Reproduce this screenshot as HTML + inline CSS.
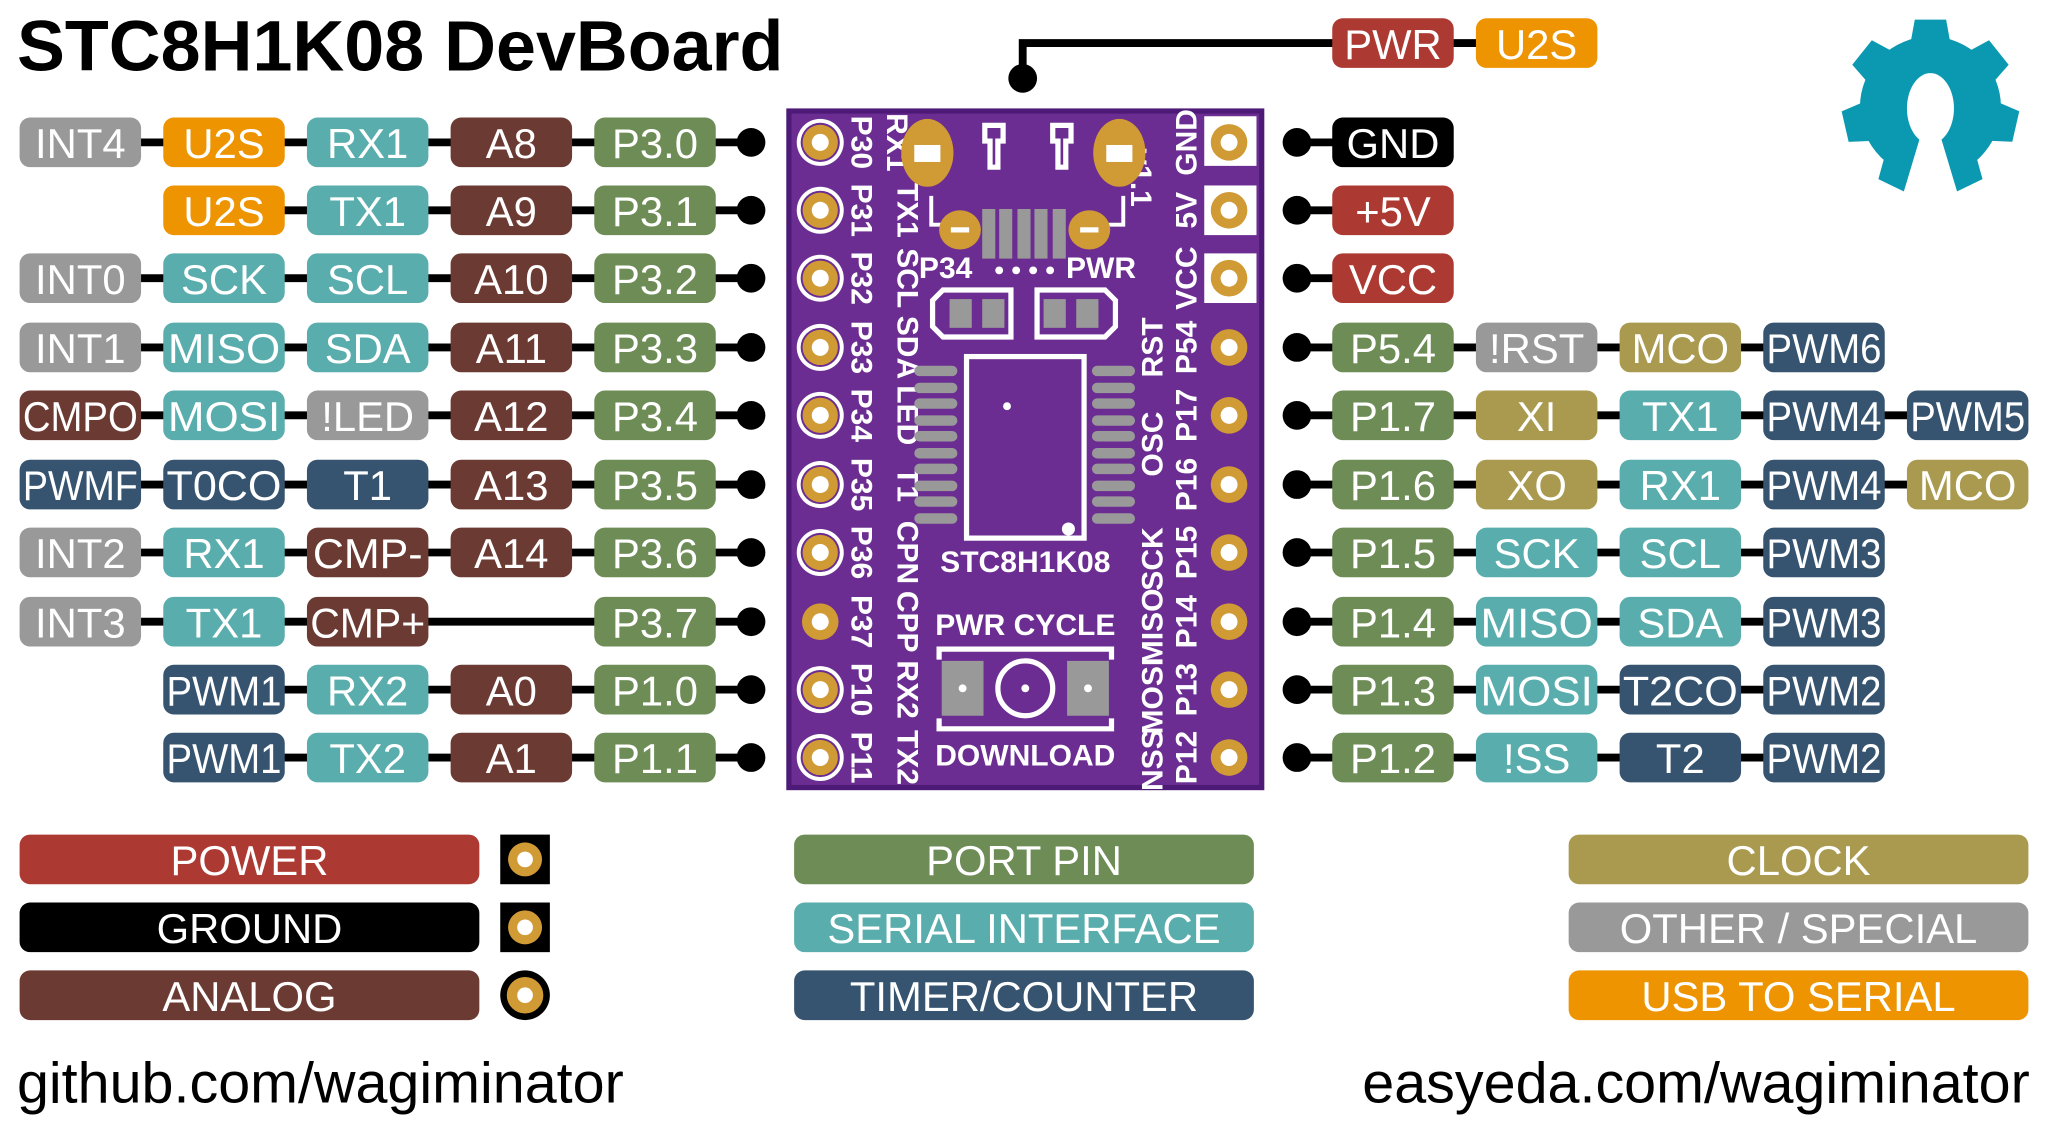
<!DOCTYPE html>
<html><head><meta charset="utf-8"><style>
html,body{margin:0;padding:0;background:#fff;}
svg{display:block;}
.p{font-family:"Liberation Sans",sans-serif;font-size:32px;fill:#fff;text-anchor:middle;}
.b{font-family:"Liberation Sans",sans-serif;font-weight:bold;font-size:23px;fill:#fff;text-anchor:middle;}
</style></head><body>
<svg width="2048" height="1132" viewBox="0 0 1568 866.7" preserveAspectRatio="none" xmlns="http://www.w3.org/2000/svg">
<defs>
<g id="hole"><circle r="18" fill="#fff"/><circle r="15" fill="#6b2d91"/><circle r="13.5" fill="#d09a35"/><circle r="6.5" fill="#fff"/></g>
<g id="holeR"><circle r="14" fill="#d09a35"/><circle r="6.5" fill="#fff"/></g>
</defs>
<text x="13" y="54" font-family="Liberation Sans,sans-serif" font-weight="bold" font-size="55" fill="#000">STC8H1K08 DevBoard</text>

<g stroke="#000" stroke-width="6">
<line x1="61" y1="109" x2="575" y2="109"/>
<line x1="171" y1="161" x2="575" y2="161"/>
<line x1="61" y1="213" x2="575" y2="213"/>
<line x1="61" y1="266" x2="575" y2="266"/>
<line x1="61" y1="318" x2="575" y2="318"/>
<line x1="61" y1="371" x2="575" y2="371"/>
<line x1="61" y1="423" x2="575" y2="423"/>
<line x1="61" y1="476" x2="575" y2="476"/>
<line x1="171" y1="528" x2="575" y2="528"/>
<line x1="171" y1="580" x2="575" y2="580"/>
<line x1="993" y1="109" x2="1066" y2="109"/>
<line x1="993" y1="161" x2="1066" y2="161"/>
<line x1="993" y1="213" x2="1066" y2="213"/>
<line x1="993" y1="266" x2="1396" y2="266"/>
<line x1="993" y1="318" x2="1506" y2="318"/>
<line x1="993" y1="371" x2="1506" y2="371"/>
<line x1="993" y1="423" x2="1396" y2="423"/>
<line x1="993" y1="476" x2="1396" y2="476"/>
<line x1="993" y1="528" x2="1396" y2="528"/>
<line x1="993" y1="580" x2="1396" y2="580"/>
<polyline points="1176,33 783,33 783,60" fill="none"/>
</g>
<g fill="#000">
<circle cx="575" cy="109" r="11"/><circle cx="575" cy="161" r="11"/><circle cx="575" cy="213" r="11"/><circle cx="575" cy="266" r="11"/><circle cx="575" cy="318" r="11"/><circle cx="575" cy="371" r="11"/><circle cx="575" cy="423" r="11"/><circle cx="575" cy="476" r="11"/><circle cx="575" cy="528" r="11"/><circle cx="575" cy="580" r="11"/>
<circle cx="993" cy="109" r="11"/><circle cx="993" cy="161" r="11"/><circle cx="993" cy="213" r="11"/><circle cx="993" cy="266" r="11"/><circle cx="993" cy="318" r="11"/><circle cx="993" cy="371" r="11"/><circle cx="993" cy="423" r="11"/><circle cx="993" cy="476" r="11"/><circle cx="993" cy="528" r="11"/><circle cx="993" cy="580" r="11"/>
<circle cx="783" cy="60" r="11"/>
</g>

<g>
<rect x="1020" y="14" width="93" height="38" rx="8" fill="#ad3a32"/><text class="p" x="1066.5" y="45">PWR</text>
<rect x="1130" y="14" width="93" height="38" rx="8" fill="#ee9400"/><text class="p" x="1176.5" y="45">U2S</text>

<rect x="15" y="90" width="93" height="38" rx="8" fill="#999"/><text class="p" x="61.5" y="121">INT4</text>
<rect x="125" y="90" width="93" height="38" rx="8" fill="#ee9400"/><text class="p" x="171.5" y="121">U2S</text>
<rect x="235" y="90" width="93" height="38" rx="8" fill="#5aadad"/><text class="p" x="281.5" y="121">RX1</text>
<rect x="345" y="90" width="93" height="38" rx="8" fill="#6b3a32"/><text class="p" x="391.5" y="121">A8</text>
<rect x="455" y="90" width="93" height="38" rx="8" fill="#6e8c55"/><text class="p" x="501.5" y="121">P3.0</text>

<rect x="125" y="142" width="93" height="38" rx="8" fill="#ee9400"/><text class="p" x="171.5" y="173">U2S</text>
<rect x="235" y="142" width="93" height="38" rx="8" fill="#5aadad"/><text class="p" x="281.5" y="173">TX1</text>
<rect x="345" y="142" width="93" height="38" rx="8" fill="#6b3a32"/><text class="p" x="391.5" y="173">A9</text>
<rect x="455" y="142" width="93" height="38" rx="8" fill="#6e8c55"/><text class="p" x="501.5" y="173">P3.1</text>

<rect x="15" y="194" width="93" height="38" rx="8" fill="#999"/><text class="p" x="61.5" y="225">INT0</text>
<rect x="125" y="194" width="93" height="38" rx="8" fill="#5aadad"/><text class="p" x="171.5" y="225">SCK</text>
<rect x="235" y="194" width="93" height="38" rx="8" fill="#5aadad"/><text class="p" x="281.5" y="225">SCL</text>
<rect x="345" y="194" width="93" height="38" rx="8" fill="#6b3a32"/><text class="p" x="391.5" y="225">A10</text>
<rect x="455" y="194" width="93" height="38" rx="8" fill="#6e8c55"/><text class="p" x="501.5" y="225">P3.2</text>

<rect x="15" y="247" width="93" height="38" rx="8" fill="#999"/><text class="p" x="61.5" y="278">INT1</text>
<rect x="125" y="247" width="93" height="38" rx="8" fill="#5aadad"/><text class="p" x="171.5" y="278" textLength="86" lengthAdjust="spacingAndGlyphs">MISO</text>
<rect x="235" y="247" width="93" height="38" rx="8" fill="#5aadad"/><text class="p" x="281.5" y="278">SDA</text>
<rect x="345" y="247" width="93" height="38" rx="8" fill="#6b3a32"/><text class="p" x="391.5" y="278">A11</text>
<rect x="455" y="247" width="93" height="38" rx="8" fill="#6e8c55"/><text class="p" x="501.5" y="278">P3.3</text>

<rect x="15" y="299" width="93" height="38" rx="8" fill="#6b3a32"/><text class="p" x="61.5" y="330" textLength="88" lengthAdjust="spacingAndGlyphs">CMPO</text>
<rect x="125" y="299" width="93" height="38" rx="8" fill="#5aadad"/><text class="p" x="171.5" y="330" textLength="86" lengthAdjust="spacingAndGlyphs">MOSI</text>
<rect x="235" y="299" width="93" height="38" rx="8" fill="#999"/><text class="p" x="281.5" y="330">!LED</text>
<rect x="345" y="299" width="93" height="38" rx="8" fill="#6b3a32"/><text class="p" x="391.5" y="330">A12</text>
<rect x="455" y="299" width="93" height="38" rx="8" fill="#6e8c55"/><text class="p" x="501.5" y="330">P3.4</text>

<rect x="15" y="352" width="93" height="38" rx="8" fill="#36546f"/><text class="p" x="61.5" y="383" textLength="88" lengthAdjust="spacingAndGlyphs">PWMF</text>
<rect x="125" y="352" width="93" height="38" rx="8" fill="#36546f"/><text class="p" x="171.5" y="383" textLength="88" lengthAdjust="spacingAndGlyphs">T0CO</text>
<rect x="235" y="352" width="93" height="38" rx="8" fill="#36546f"/><text class="p" x="281.5" y="383">T1</text>
<rect x="345" y="352" width="93" height="38" rx="8" fill="#6b3a32"/><text class="p" x="391.5" y="383">A13</text>
<rect x="455" y="352" width="93" height="38" rx="8" fill="#6e8c55"/><text class="p" x="501.5" y="383">P3.5</text>

<rect x="15" y="404" width="93" height="38" rx="8" fill="#999"/><text class="p" x="61.5" y="435">INT2</text>
<rect x="125" y="404" width="93" height="38" rx="8" fill="#5aadad"/><text class="p" x="171.5" y="435">RX1</text>
<rect x="235" y="404" width="93" height="38" rx="8" fill="#6b3a32"/><text class="p" x="281.5" y="435" textLength="84" lengthAdjust="spacingAndGlyphs">CMP-</text>
<rect x="345" y="404" width="93" height="38" rx="8" fill="#6b3a32"/><text class="p" x="391.5" y="435">A14</text>
<rect x="455" y="404" width="93" height="38" rx="8" fill="#6e8c55"/><text class="p" x="501.5" y="435">P3.6</text>

<rect x="15" y="457" width="93" height="38" rx="8" fill="#999"/><text class="p" x="61.5" y="488">INT3</text>
<rect x="125" y="457" width="93" height="38" rx="8" fill="#5aadad"/><text class="p" x="171.5" y="488">TX1</text>
<rect x="235" y="457" width="93" height="38" rx="8" fill="#6b3a32"/><text class="p" x="281.5" y="488" textLength="88" lengthAdjust="spacingAndGlyphs">CMP+</text>
<rect x="455" y="457" width="93" height="38" rx="8" fill="#6e8c55"/><text class="p" x="501.5" y="488">P3.7</text>

<rect x="125" y="509" width="93" height="38" rx="8" fill="#36546f"/><text class="p" x="171.5" y="540" textLength="88" lengthAdjust="spacingAndGlyphs">PWM1</text>
<rect x="235" y="509" width="93" height="38" rx="8" fill="#5aadad"/><text class="p" x="281.5" y="540">RX2</text>
<rect x="345" y="509" width="93" height="38" rx="8" fill="#6b3a32"/><text class="p" x="391.5" y="540">A0</text>
<rect x="455" y="509" width="93" height="38" rx="8" fill="#6e8c55"/><text class="p" x="501.5" y="540">P1.0</text>

<rect x="125" y="561" width="93" height="38" rx="8" fill="#36546f"/><text class="p" x="171.5" y="592" textLength="88" lengthAdjust="spacingAndGlyphs">PWM1</text>
<rect x="235" y="561" width="93" height="38" rx="8" fill="#5aadad"/><text class="p" x="281.5" y="592">TX2</text>
<rect x="345" y="561" width="93" height="38" rx="8" fill="#6b3a32"/><text class="p" x="391.5" y="592">A1</text>
<rect x="455" y="561" width="93" height="38" rx="8" fill="#6e8c55"/><text class="p" x="501.5" y="592">P1.1</text>

<rect x="1020" y="90" width="93" height="38" rx="8" fill="#000"/><text class="p" x="1066.5" y="121">GND</text>
<rect x="1020" y="142" width="93" height="38" rx="8" fill="#ad3a32"/><text class="p" x="1066.5" y="173">+5V</text>
<rect x="1020" y="194" width="93" height="38" rx="8" fill="#ad3a32"/><text class="p" x="1066.5" y="225">VCC</text>

<rect x="1020" y="247" width="93" height="38" rx="8" fill="#6e8c55"/><text class="p" x="1066.5" y="278">P5.4</text>
<rect x="1130" y="247" width="93" height="38" rx="8" fill="#999"/><text class="p" x="1176.5" y="278">!RST</text>
<rect x="1240" y="247" width="93" height="38" rx="8" fill="#a99a4f"/><text class="p" x="1286.5" y="278">MCO</text>
<rect x="1350" y="247" width="93" height="38" rx="8" fill="#36546f"/><text class="p" x="1396.5" y="278" textLength="88" lengthAdjust="spacingAndGlyphs">PWM6</text>

<rect x="1020" y="299" width="93" height="38" rx="8" fill="#6e8c55"/><text class="p" x="1066.5" y="330">P1.7</text>
<rect x="1130" y="299" width="93" height="38" rx="8" fill="#a99a4f"/><text class="p" x="1176.5" y="330">XI</text>
<rect x="1240" y="299" width="93" height="38" rx="8" fill="#5aadad"/><text class="p" x="1286.5" y="330">TX1</text>
<rect x="1350" y="299" width="93" height="38" rx="8" fill="#36546f"/><text class="p" x="1396.5" y="330" textLength="88" lengthAdjust="spacingAndGlyphs">PWM4</text>
<rect x="1460" y="299" width="93" height="38" rx="8" fill="#36546f"/><text class="p" x="1506.5" y="330" textLength="88" lengthAdjust="spacingAndGlyphs">PWM5</text>

<rect x="1020" y="352" width="93" height="38" rx="8" fill="#6e8c55"/><text class="p" x="1066.5" y="383">P1.6</text>
<rect x="1130" y="352" width="93" height="38" rx="8" fill="#a99a4f"/><text class="p" x="1176.5" y="383">XO</text>
<rect x="1240" y="352" width="93" height="38" rx="8" fill="#5aadad"/><text class="p" x="1286.5" y="383">RX1</text>
<rect x="1350" y="352" width="93" height="38" rx="8" fill="#36546f"/><text class="p" x="1396.5" y="383" textLength="88" lengthAdjust="spacingAndGlyphs">PWM4</text>
<rect x="1460" y="352" width="93" height="38" rx="8" fill="#a99a4f"/><text class="p" x="1506.5" y="383">MCO</text>

<rect x="1020" y="404" width="93" height="38" rx="8" fill="#6e8c55"/><text class="p" x="1066.5" y="435">P1.5</text>
<rect x="1130" y="404" width="93" height="38" rx="8" fill="#5aadad"/><text class="p" x="1176.5" y="435">SCK</text>
<rect x="1240" y="404" width="93" height="38" rx="8" fill="#5aadad"/><text class="p" x="1286.5" y="435">SCL</text>
<rect x="1350" y="404" width="93" height="38" rx="8" fill="#36546f"/><text class="p" x="1396.5" y="435" textLength="88" lengthAdjust="spacingAndGlyphs">PWM3</text>

<rect x="1020" y="457" width="93" height="38" rx="8" fill="#6e8c55"/><text class="p" x="1066.5" y="488">P1.4</text>
<rect x="1130" y="457" width="93" height="38" rx="8" fill="#5aadad"/><text class="p" x="1176.5" y="488" textLength="86" lengthAdjust="spacingAndGlyphs">MISO</text>
<rect x="1240" y="457" width="93" height="38" rx="8" fill="#5aadad"/><text class="p" x="1286.5" y="488">SDA</text>
<rect x="1350" y="457" width="93" height="38" rx="8" fill="#36546f"/><text class="p" x="1396.5" y="488" textLength="88" lengthAdjust="spacingAndGlyphs">PWM3</text>

<rect x="1020" y="509" width="93" height="38" rx="8" fill="#6e8c55"/><text class="p" x="1066.5" y="540">P1.3</text>
<rect x="1130" y="509" width="93" height="38" rx="8" fill="#5aadad"/><text class="p" x="1176.5" y="540" textLength="86" lengthAdjust="spacingAndGlyphs">MOSI</text>
<rect x="1240" y="509" width="93" height="38" rx="8" fill="#36546f"/><text class="p" x="1286.5" y="540" textLength="88" lengthAdjust="spacingAndGlyphs">T2CO</text>
<rect x="1350" y="509" width="93" height="38" rx="8" fill="#36546f"/><text class="p" x="1396.5" y="540" textLength="88" lengthAdjust="spacingAndGlyphs">PWM2</text>

<rect x="1020" y="561" width="93" height="38" rx="8" fill="#6e8c55"/><text class="p" x="1066.5" y="592">P1.2</text>
<rect x="1130" y="561" width="93" height="38" rx="8" fill="#5aadad"/><text class="p" x="1176.5" y="592">!SS</text>
<rect x="1240" y="561" width="93" height="38" rx="8" fill="#36546f"/><text class="p" x="1286.5" y="592">T2</text>
<rect x="1350" y="561" width="93" height="38" rx="8" fill="#36546f"/><text class="p" x="1396.5" y="592" textLength="88" lengthAdjust="spacingAndGlyphs">PWM2</text>
</g>

<!-- board -->
<rect x="602" y="83" width="366" height="522" fill="#4e1a78"/>
<rect x="606" y="87" width="358" height="514" fill="#6b2d91"/>
<g>
<use href="#hole" x="628" y="109"/><use href="#hole" x="628" y="161"/><use href="#hole" x="628" y="213"/><use href="#hole" x="628" y="266"/><use href="#hole" x="628" y="318"/><use href="#hole" x="628" y="371"/><use href="#hole" x="628" y="423"/><use href="#holeR" x="628" y="476"/><use href="#hole" x="628" y="528"/><use href="#hole" x="628" y="580"/>
<rect x="922" y="89" width="40" height="38" fill="#fff"/><rect x="922" y="142" width="40" height="38" fill="#fff"/><rect x="922" y="194" width="40" height="38" fill="#fff"/>
<use href="#holeR" x="941" y="109"/><use href="#holeR" x="941" y="161"/><use href="#holeR" x="941" y="213"/><use href="#holeR" x="941" y="266"/><use href="#holeR" x="941" y="318"/><use href="#holeR" x="941" y="371"/><use href="#holeR" x="941" y="423"/><use href="#holeR" x="941" y="476"/><use href="#holeR" x="941" y="528"/><use href="#holeR" x="941" y="580"/>
</g>
<g>
<text class="b" transform="translate(652,109) rotate(90)">P30</text>
<text class="b" transform="translate(652,161) rotate(90)">P31</text>
<text class="b" transform="translate(652,213) rotate(90)">P32</text>
<text class="b" transform="translate(652,266) rotate(90)">P33</text>
<text class="b" transform="translate(652,318) rotate(90)">P34</text>
<text class="b" transform="translate(652,371) rotate(90)">P35</text>
<text class="b" transform="translate(652,423) rotate(90)">P36</text>
<text class="b" transform="translate(652,476) rotate(90)">P37</text>
<text class="b" transform="translate(652,528) rotate(90)">P10</text>
<text class="b" transform="translate(652,580) rotate(90)">P11</text>
<text class="b" transform="translate(679,109) rotate(90)">RX1</text>
<text class="b" transform="translate(687,161) rotate(90)">TX1</text>
<text class="b" transform="translate(687,213) rotate(90)">SCL</text>
<text class="b" transform="translate(687,266) rotate(90)">SDA</text>
<text class="b" transform="translate(687,318) rotate(90)">LED</text>
<text class="b" transform="translate(687,371) rotate(90)">T1</text>
<text class="b" transform="translate(687,423) rotate(90)">CPN</text>
<text class="b" transform="translate(687,476) rotate(90)">CPP</text>
<text class="b" transform="translate(687,528) rotate(90)">RX2</text>
<text class="b" transform="translate(687,580) rotate(90)">TX2</text>
<text class="b" transform="translate(916,109) rotate(-90)">GND</text>
<text class="b" transform="translate(916,161) rotate(-90)">5V</text>
<text class="b" transform="translate(916,213) rotate(-90)">VCC</text>
<text class="b" transform="translate(916,266) rotate(-90)">P54</text>
<text class="b" transform="translate(916,318) rotate(-90)">P17</text>
<text class="b" transform="translate(916,371) rotate(-90)">P16</text>
<text class="b" transform="translate(916,423) rotate(-90)">P15</text>
<text class="b" transform="translate(916,476) rotate(-90)">P14</text>
<text class="b" transform="translate(916,528) rotate(-90)">P13</text>
<text class="b" transform="translate(916,580) rotate(-90)">P12</text>
<text class="b" transform="translate(890,266) rotate(-90)">RST</text>
<text class="b" transform="translate(890,340) rotate(-90)">OSC</text>
<text class="b" transform="translate(890,428) rotate(-90)">SCK</text>
<text class="b" transform="translate(890,480) rotate(-90)">MISO</text>
<text class="b" transform="translate(890,533) rotate(-90)">MOSI</text>
<text class="b" transform="translate(890,582) rotate(-90)">NSS</text>
<text class="b" transform="translate(866,136) rotate(90)" font-size="20">v1.1</text>
</g>
<g>
<ellipse cx="710" cy="117" rx="20" ry="26" fill="#d09a35"/><rect x="700" y="111" width="20" height="13" fill="#fff"/>
<ellipse cx="857" cy="117" rx="20" ry="26" fill="#d09a35"/><rect x="847" y="111" width="20" height="13" fill="#fff"/>
<path d="M754 96 h14 v12 h-4 v20 h-6 v-20 h-4z" fill="none" stroke="#fff" stroke-width="4"/>
<path d="M806 96 h14 v12 h-4 v20 h-6 v-20 h-4z" fill="none" stroke="#fff" stroke-width="4"/>
<polyline points="713,150 713,172 730,172" fill="none" stroke="#fff" stroke-width="3"/>
<polyline points="860,150 860,172 843,172" fill="none" stroke="#fff" stroke-width="3"/>
<ellipse cx="735" cy="176" rx="16" ry="15" fill="#d09a35"/><rect x="728" y="174" width="14" height="4" fill="#fff"/>
<ellipse cx="834" cy="176" rx="16" ry="15" fill="#d09a35"/><rect x="827" y="174" width="14" height="4" fill="#fff"/>
<g fill="#999"><rect x="752" y="160" width="10" height="38"/><rect x="765" y="160" width="10" height="38"/><rect x="779" y="160" width="10" height="38"/><rect x="792" y="160" width="10" height="38"/><rect x="806" y="160" width="10" height="38"/></g>
<text class="b" x="724" y="213">P34</text><text class="b" x="843" y="213">PWR</text>
<g fill="#fff"><circle cx="765" cy="207" r="3"/><circle cx="778" cy="207" r="3"/><circle cx="791" cy="207" r="3"/><circle cx="804" cy="207" r="3"/></g>
<path d="M722 222 h52 v36 h-52 l-8 -8 v-20z" fill="none" stroke="#fff" stroke-width="4"/>
<rect x="727" y="229" width="17" height="22" fill="#999"/><rect x="752" y="229" width="17" height="22" fill="#999"/>
<path d="M794 222 h52 l8 8 v20 l-8 8 h-52z" fill="none" stroke="#fff" stroke-width="4"/>
<rect x="799" y="229" width="17" height="22" fill="#999"/><rect x="824" y="229" width="17" height="22" fill="#999"/>
<rect x="740" y="273" width="90" height="139" fill="none" stroke="#fff" stroke-width="4"/>
<circle cx="771" cy="311" r="3" fill="#fff"/><circle cx="818" cy="405" r="5" fill="#fff"/>
<g fill="#999">
<rect x="700" y="280" width="33" height="8" rx="4"/><rect x="700" y="293" width="33" height="8" rx="4"/><rect x="700" y="305" width="33" height="8" rx="4"/><rect x="700" y="318" width="33" height="8" rx="4"/><rect x="700" y="330" width="33" height="8" rx="4"/><rect x="700" y="343" width="33" height="8" rx="4"/><rect x="700" y="355" width="33" height="8" rx="4"/><rect x="700" y="368" width="33" height="8" rx="4"/><rect x="700" y="380" width="33" height="8" rx="4"/><rect x="700" y="393" width="33" height="8" rx="4"/>
<rect x="836" y="280" width="33" height="8" rx="4"/><rect x="836" y="293" width="33" height="8" rx="4"/><rect x="836" y="305" width="33" height="8" rx="4"/><rect x="836" y="318" width="33" height="8" rx="4"/><rect x="836" y="330" width="33" height="8" rx="4"/><rect x="836" y="343" width="33" height="8" rx="4"/><rect x="836" y="355" width="33" height="8" rx="4"/><rect x="836" y="368" width="33" height="8" rx="4"/><rect x="836" y="380" width="33" height="8" rx="4"/><rect x="836" y="393" width="33" height="8" rx="4"/>
</g>
<text class="b" x="785" y="438">STC8H1K08</text>
<text class="b" x="785" y="486">PWR CYCLE</text>
<polyline points="719,505 719,497 851,497 851,505" fill="none" stroke="#fff" stroke-width="4"/>
<polyline points="719,550 719,558 851,558 851,550" fill="none" stroke="#fff" stroke-width="4"/>
<rect x="721" y="506" width="32" height="42" fill="#999"/><rect x="817" y="506" width="32" height="42" fill="#999"/>
<circle cx="737" cy="527" r="3" fill="#fff"/><circle cx="833" cy="527" r="3" fill="#fff"/>
<circle cx="785" cy="527" r="21" fill="none" stroke="#fff" stroke-width="4"/><circle cx="785" cy="527" r="3" fill="#fff"/>
<text class="b" x="785" y="586">DOWNLOAD</text>
</g>

<!-- gear -->
<g transform="translate(1478,82)" fill="#0a99b0">
<circle r="54"/>
<g id="t"><polygon points="-12,-67 12,-67 16,-45 -16,-45"/></g>
<use href="#t" transform="rotate(51.4)"/><use href="#t" transform="rotate(102.8)"/><use href="#t" transform="rotate(154.3)"/><use href="#t" transform="rotate(205.7)"/><use href="#t" transform="rotate(257.1)"/><use href="#t" transform="rotate(308.6)"/>
<ellipse cx="0" cy="1" rx="18" ry="27" fill="#fff"/>
<polygon points="-7,20 7,20 22,70 -22,70" fill="#fff"/>
</g>

<!-- legend -->
<rect x="15" y="639" width="352" height="38" rx="8" fill="#ad3a32"/><text class="p" x="191" y="670">POWER</text>
<rect x="15" y="691" width="352" height="38" rx="8" fill="#000"/><text class="p" x="191" y="722">GROUND</text>
<rect x="15" y="743" width="352" height="38" rx="8" fill="#6b3a32"/><text class="p" x="191" y="774">ANALOG</text>
<rect x="383" y="639" width="38" height="38" fill="#000"/><circle cx="402" cy="658" r="13" fill="#d09a35"/><circle cx="402" cy="658" r="6" fill="#fff"/>
<rect x="383" y="691" width="38" height="38" fill="#000"/><circle cx="402" cy="710" r="13" fill="#d09a35"/><circle cx="402" cy="710" r="6" fill="#fff"/>
<circle cx="402" cy="762" r="19" fill="#000"/><circle cx="402" cy="762" r="14" fill="#d09a35"/><circle cx="402" cy="762" r="6" fill="#fff"/>
<rect x="608" y="639" width="352" height="38" rx="8" fill="#6e8c55"/><text class="p" x="784" y="670">PORT PIN</text>
<rect x="608" y="691" width="352" height="38" rx="8" fill="#5aadad"/><text class="p" x="784" y="722">SERIAL INTERFACE</text>
<rect x="608" y="743" width="352" height="38" rx="8" fill="#36546f"/><text class="p" x="784" y="774">TIMER/COUNTER</text>
<rect x="1201" y="639" width="352" height="38" rx="8" fill="#a99a4f"/><text class="p" x="1377" y="670">CLOCK</text>
<rect x="1201" y="691" width="352" height="38" rx="8" fill="#999"/><text class="p" x="1377" y="722">OTHER / SPECIAL</text>
<rect x="1201" y="743" width="352" height="38" rx="8" fill="#ee9400"/><text class="p" x="1377" y="774">USB TO SERIAL</text>

<text x="13" y="844" font-family="Liberation Sans,sans-serif" font-size="44" fill="#000">github.com/wagiminator</text>
<text x="1554" y="844" text-anchor="end" font-family="Liberation Sans,sans-serif" font-size="44" fill="#000">easyeda.com/wagiminator</text>
</svg>
</body></html>
